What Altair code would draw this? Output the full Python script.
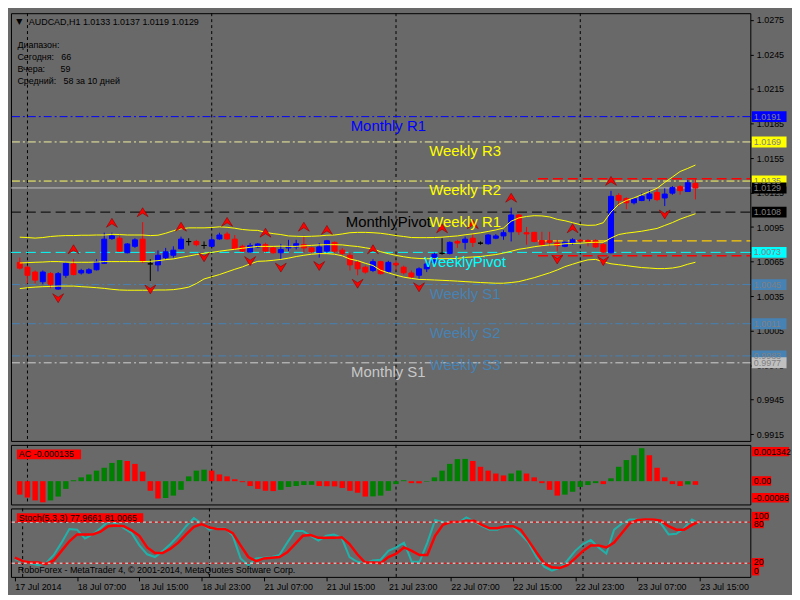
import altair as alt
import pandas as pd
import numpy as np

FONT = "Liberation Sans"
BG = "#696969"
W = 745
H_MAIN, H_AC, H_ST = 431, 60, 69

# ---------------- data ----------------
time_labels = ["17 Jul 2014", "18 Jul 07:00", "18 Jul 15:00", "18 Jul 23:00",
               "21 Jul 07:00", "21 Jul 15:00", "21 Jul 23:00", "22 Jul 07:00",
               "22 Jul 15:00", "22 Jul 23:00", "23 Jul 07:00", "23 Jul 15:00"]
day_start_bars = [1, 25, 49, 73]

opens = [1.00643, 1.00601, 1.00559, 1.00475, 1.00545, 1.00411, 1.00531, 1.00629, 1.00551, 1.00551,
         1.00579, 1.00635, 1.00850, 1.00853, 1.00727, 1.00783, 1.00845, 1.00630, 1.00621, 1.00685,
         1.00705, 1.00761, 1.00824, 1.00825, 1.00790, 1.00783, 1.00847, 1.00889, 1.00845, 1.00783,
         1.00733, 1.00777, 1.00797, 1.00769, 1.00727, 1.00769, 1.00777, 1.00797, 1.00769, 1.00727,
         1.00741, 1.00817, 1.00749, 1.00705, 1.00643, 1.00601, 1.00573, 1.00649, 1.00565, 1.00635,
         1.00601, 1.00551, 1.00531, 1.00587, 1.00643, 1.00722, 1.00721, 1.00825, 1.00817, 1.00853,
         1.00810, 1.00805, 1.00853, 1.00873, 1.00909, 1.01055, 1.00901, 1.00904, 1.00833, 1.00831,
         1.00811, 1.00783, 1.00811, 1.00835, 1.00833, 1.00831, 1.00797, 1.00727, 1.01225, 1.01197,
         1.01161, 1.01181, 1.01197, 1.01251, 1.01203, 1.01245, 1.01301, 1.01259, 1.01330]
highs = [1.00685, 1.00615, 1.00573, 1.00573, 1.00559, 1.00559, 1.00643, 1.00671, 1.00587, 1.00593,
         1.00671, 1.00901, 1.00901, 1.00873, 1.00811, 1.00853, 1.00993, 1.00671, 1.00747, 1.00769,
         1.00783, 1.00867, 1.00853, 1.00839, 1.00825, 1.00867, 1.00901, 1.00909, 1.00881, 1.00797,
         1.00811, 1.00811, 1.00815, 1.00783, 1.00803, 1.00839, 1.00839, 1.00867, 1.00777, 1.00811,
         1.00839, 1.00825, 1.00769, 1.00727, 1.00657, 1.00615, 1.00671, 1.00657, 1.00657, 1.00657,
         1.00615, 1.00573, 1.00601, 1.00657, 1.00727, 1.00853, 1.00825, 1.00839, 1.00867, 1.00889,
         1.00825, 1.00889, 1.00889, 1.00923, 1.01119, 1.01063, 1.00951, 1.00909, 1.00909, 1.00909,
         1.00839, 1.00825, 1.00853, 1.00845, 1.00845, 1.00845, 1.00811, 1.01265, 1.01245, 1.01209,
         1.01209, 1.01245, 1.01273, 1.01287, 1.01287, 1.01307, 1.01315, 1.01357, 1.01370]
lows = [1.00581, 1.00461, 1.00461, 1.00453, 1.00419, 1.00405, 1.00509, 1.00531, 1.00537, 1.00542,
        1.00573, 1.00629, 1.00839, 1.00735, 1.00721, 1.00769, 1.00637, 1.00481, 1.00565, 1.00671,
        1.00685, 1.00755, 1.00789, 1.00783, 1.00761, 1.00777, 1.00839, 1.00839, 1.00749, 1.00735,
        1.00727, 1.00769, 1.00730, 1.00719, 1.00671, 1.00741, 1.00755, 1.00727, 1.00727, 1.00685,
        1.00727, 1.00727, 1.00699, 1.00573, 1.00531, 1.00545, 1.00559, 1.00537, 1.00553, 1.00573,
        1.00537, 1.00506, 1.00500, 1.00559, 1.00629, 1.00710, 1.00713, 1.00769, 1.00755, 1.00777,
        1.00797, 1.00797, 1.00845, 1.00839, 1.00825, 1.00881, 1.00797, 1.00817, 1.00783, 1.00783,
        1.00741, 1.00775, 1.00797, 1.00817, 1.00783, 1.00769, 1.00727, 1.00721, 1.01133, 1.01105,
        1.01147, 1.01175, 1.01175, 1.01175, 1.01133, 1.01231, 1.01231, 1.01259, 1.01190]
closes = [1.00593, 1.00531, 1.00489, 1.00559, 1.00453, 1.00545, 1.00635, 1.00537, 1.00573, 1.00579,
          1.00649, 1.00845, 1.00873, 1.00741, 1.00803, 1.00839, 1.00649, 1.00630, 1.00705, 1.00735,
          1.00749, 1.00845, 1.00824, 1.00797, 1.00790, 1.00839, 1.00881, 1.00847, 1.00761, 1.00741,
          1.00789, 1.00803, 1.00741, 1.00727, 1.00755, 1.00783, 1.00805, 1.00769, 1.00733, 1.00777,
          1.00831, 1.00741, 1.00721, 1.00621, 1.00587, 1.00559, 1.00649, 1.00545, 1.00643, 1.00621,
          1.00553, 1.00517, 1.00587, 1.00629, 1.00713, 1.00722, 1.00817, 1.00811, 1.00845, 1.00817,
          1.00810, 1.00881, 1.00873, 1.00901, 1.01055, 1.00909, 1.00890, 1.00825, 1.00797, 1.00817,
          1.00789, 1.00817, 1.00839, 1.00829, 1.00825, 1.00777, 1.00735, 1.01217, 1.01183, 1.01161,
          1.01197, 1.01217, 1.01237, 1.01189, 1.01237, 1.01293, 1.01267, 1.01335, 1.01290]

band_upper = [1.00862, 1.00859, 1.00854, 1.00859, 1.00868, 1.00873, 1.00876, 1.00876, 1.00879, 1.00879,
              1.00881, 1.00881, 1.00887, 1.00885, 1.00881, 1.00881, 1.00881, 1.00876, 1.00879, 1.00896,
              1.00918, 1.00935, 1.00943, 1.00943, 1.00943, 1.00946, 1.00952, 1.00948, 1.00940, 1.00929,
              1.00923, 1.00921, 1.00904, 1.00893, 1.00885, 1.00873, 1.00870, 1.00868, 1.00870, 1.00873,
              1.00879, 1.00881, 1.00890, 1.00901, 1.00904, 1.00904, 1.00901, 1.00896, 1.00887, 1.00876,
              1.00868, 1.00859, 1.00858, 1.00858, 1.00859, 1.00862, 1.00868, 1.00873, 1.00883, 1.00891,
              1.00900, 1.00912, 1.00925, 1.00942, 1.01001, 1.01030, 1.01042, 1.01049, 1.01047, 1.01038,
              1.01017, 1.01005, 1.00988, 1.00971, 1.00965, 1.00967, 1.00988, 1.01080, 1.01147, 1.01181,
              1.01204, 1.01231, 1.01259, 1.01287, 1.01338, 1.01385, 1.01433, 1.01460, 1.01489]
band_mid = [1.00638, 1.00641, 1.00644, 1.00646, 1.00650, 1.00650, 1.00646, 1.00644, 1.00644, 1.00644,
            1.00646, 1.00650, 1.00650, 1.00650, 1.00650, 1.00650, 1.00650, 1.00652, 1.00658, 1.00667,
            1.00673, 1.00686, 1.00698, 1.00711, 1.00722, 1.00730, 1.00740, 1.00749, 1.00757, 1.00766,
            1.00774, 1.00782, 1.00782, 1.00782, 1.00784, 1.00782, 1.00782, 1.00787, 1.00791, 1.00795,
            1.00797, 1.00797, 1.00795, 1.00787, 1.00781, 1.00770, 1.00759, 1.00736, 1.00719, 1.00704,
            1.00692, 1.00682, 1.00677, 1.00675, 1.00675, 1.00675, 1.00676, 1.00677, 1.00686, 1.00690,
            1.00694, 1.00703, 1.00711, 1.00724, 1.00740, 1.00757, 1.00767, 1.00779, 1.00788, 1.00795,
            1.00797, 1.00805, 1.00808, 1.00809, 1.00815, 1.00818, 1.00818, 1.00855, 1.00885, 1.00897,
            1.00905, 1.00914, 1.00926, 1.00938, 1.00964, 1.00989, 1.01019, 1.01043, 1.01066]
band_lower = [1.00415, 1.00423, 1.00428, 1.00432, 1.00434, 1.00437, 1.00437, 1.00437, 1.00432, 1.00428,
              1.00423, 1.00417, 1.00409, 1.00403, 1.00401, 1.00401, 1.00401, 1.00401, 1.00403, 1.00403,
              1.00406, 1.00415, 1.00428, 1.00459, 1.00499, 1.00518, 1.00537, 1.00560, 1.00583, 1.00604,
              1.00630, 1.00652, 1.00655, 1.00661, 1.00669, 1.00680, 1.00694, 1.00705, 1.00714, 1.00719,
              1.00719, 1.00714, 1.00700, 1.00672, 1.00658, 1.00635, 1.00616, 1.00574, 1.00552, 1.00532,
              1.00515, 1.00504, 1.00495, 1.00493, 1.00490, 1.00487, 1.00484, 1.00480, 1.00476, 1.00472,
              1.00468, 1.00465, 1.00462, 1.00462, 1.00468, 1.00476, 1.00493, 1.00510, 1.00531, 1.00552,
              1.00577, 1.00606, 1.00627, 1.00648, 1.00665, 1.00669, 1.00648, 1.00631, 1.00623, 1.00615,
              1.00606, 1.00598, 1.00594, 1.00589, 1.00589, 1.00594, 1.00606, 1.00627, 1.00644]

fractal_up_bars = [7, 12, 16, 21, 27, 32, 37, 40, 46, 55, 59, 64, 72, 77]
fractal_down_bars = [5, 17, 24, 30, 34, 39, 44, 52, 70, 76, 84]

ac_values = [-0.000497, -0.000604, -0.00071, -0.000781, -0.00071, -0.000568, -0.000284, 0.0000355, 0.000142, 0.000249,
             0.000391, 0.000497, 0.000675, 0.000781, 0.000746, 0.000639, 0.000355, -0.000355, -0.000639, -0.000621,
             -0.000533, -0.00032, 0.000178, 0.000391, 0.000426, 0.000391, 0.000249, 0.000178, 0.000071, -0.000036,
             -0.000178, -0.000284, -0.000355, -0.000366, -0.00032, -0.000213, -0.000178, -0.000142, -0.000135, -0.000178,
             -0.000185, -0.000192, -0.000249, -0.000355, -0.000426, -0.000568, -0.000561, -0.000533, -0.000355, -0.000107,
             0.0000355, -0.000071, -0.000078, -0.000018, 0.000142, 0.000391, 0.000639, 0.000817, 0.000824, 0.000746,
             0.000533, 0.000391, 0.000284, 0.000213, 0.000284, 0.000391, 0.000284, 0.000142, -0.000071, -0.00032,
             -0.000533, -0.000497, -0.000391, -0.000213, -0.000142, -0.000071, -0.000107, 0.000107, 0.000533, 0.000781,
             0.000959, 0.00122, 0.000959, 0.000497, 0.000142, -0.000107, -0.000178, -0.00012, -0.000135]

stoch_k = [26, 22, 20, 17, 20, 32, 50, 70, 69, 56, 62, 71, 81, 78, 71, 64, 46, 33, 29, 38,
           48, 60, 74, 86, 78, 69, 71, 71, 60, 27, 17, 27, 28, 29, 32, 50, 67, 67, 60, 53,
           60, 62, 57, 29, 22, 20, 24, 25, 38, 43, 50, 22, 22, 50, 83, 80, 80, 79, 87, 81,
           74, 69, 69, 76, 73, 62, 50, 29, 15, 9, 13, 24, 38, 48, 54, 43, 34, 69, 78, 84,
           84, 83, 84, 78, 62, 63, 71, 84, 77.9661]
stoch_d = [28, 23, 21, 21, 19, 24, 38, 52, 62, 62, 62, 66, 74, 75, 74, 68, 60, 43, 35, 35,
           41, 50, 62, 73, 77, 72, 70, 70, 64, 46, 29, 23, 27, 28, 29, 36, 48, 60, 61, 57,
           57, 57, 58, 48, 33, 21, 21, 20, 29, 34, 43, 38, 32, 32, 60, 76, 80, 80, 82, 82,
           76, 71, 71, 74, 74, 69, 53, 36, 20, 14, 13, 17, 27, 38, 46, 46, 43, 50, 64, 78,
           83, 84, 84, 82, 74, 69, 69, 76, 81.0065]

price_ticks = [0.9915, 0.9945, 0.9975, 1.0005, 1.0035, 1.0065, 1.0095, 1.0125,
               1.0155, 1.0185, 1.0215, 1.0245, 1.0275]

pivot_names = ["Monthly R1", "Weekly R3", "Weekly R2", "MonthlyPivot", "Weekly R1",
               "WeeklyPivot", "Weekly S1", "Weekly S2", "Weekly S3", "Monthly S1"]
pivot_prices = [1.0191, 1.0169, 1.0135, 1.0108, 1.0108, 1.0073, 1.0045, 1.0011, 0.9983, 0.9977]
pivot_label_bars = [48, 58, 58, 48, 58, 58, 58, 58, 58, 48]
pivot_text_colors = ["#0000ff", "#ffff00", "#ffff00", "#000000", "#ffff00",
                     "#00ffff", "#4682b4", "#4682b4", "#4682b4", "#c8c8c8"]

dashdot_prices = [1.0191, 1.0169, 1.0135, 1.0045, 1.0011, 0.9983, 0.9977]
dashdot_colors = ["#0000ff", "#f0f0a0", "#ffff66", "#4682b4", "#4682b4", "#4682b4", "#d0d0d0"]
dashed_prices = [1.0108, 1.0073]
dashed_colors = ["#000000", "#00ffff"]
bid_price = 1.0129
day_line_prices = [1.0137, 1.0083, 1.0070]
day_line_colors = ["#ff0000", "#ffcc00", "#ff0000"]
day_line_start = 67.5

box_prices = [1.0191, 1.0169, 1.0135, 1.0129, 1.0108, 1.0073, 1.0045, 1.0011, 0.9983, 0.9977]
box_colors = ["#0000ff", "#ffff00", "#ffff00", "#000000", "#000000",
              "#00ffff", "#4682b4", "#4682b4", "#4682b4", "#c0c0c0"]

# ---------------- tables ----------------
N = len(closes)
bars = pd.DataFrame({"bar": np.arange(N), "open": opens, "high": highs, "low": lows,
                     "close": closes, "upper": band_upper, "mid": band_mid,
                     "lower": band_lower, "ac": ac_values, "k": stoch_k, "d": stoch_d})
o = bars["open"].values
c = bars["close"].values
bars["dir"] = np.select([np.isclose(o, c, atol=1e-7), c > o], ["flat", "up"], default="down")
bars["acdir"] = np.where(bars["ac"].diff() > 0, "ac_up", "ac_down")

days = pd.DataFrame({"bar": day_start_bars})
frac_up = bars[bars["bar"].isin(fractal_up_bars)]
frac_dn = bars[bars["bar"].isin(fractal_down_bars)]
pivot_lbl = pd.DataFrame({"name": pivot_names, "price": pivot_prices,
                          "bar": pivot_label_bars, "color": pivot_text_colors})
dd_df = pd.DataFrame({"price": dashdot_prices, "color": dashdot_colors})
dash_df = pd.DataFrame({"price": dashed_prices, "color": dashed_colors})
bid_df = pd.DataFrame({"price": [bid_price]})
dayl_df = pd.DataFrame({"price": day_line_prices, "color": day_line_colors,
                        "start": [day_line_start] * len(day_line_prices)})
boxes = pd.DataFrame({"price": box_prices, "bg": box_colors,
                      "label": [f"{p:.4f}" for p in box_prices]})
levels = pd.DataFrame({"lvl": [80, 20]})

# ---------------- scales / axes ----------------
xsc = alt.Scale(domain=[-0.5, 94.5], nice=False, zero=False)
ysc = alt.Scale(domain=[0.99091, 1.02809], nice=False, zero=False)
acsc = alt.Scale(domain=[-0.00086, 0.001342], nice=False, zero=False)
stsc = alt.Scale(domain=[0, 100], nice=False, zero=False)
dir_scale = alt.Scale(domain=["up", "down", "flat"], range=["#0000ff", "#ff0000", "#000000"])
ac_scale = alt.Scale(domain=["ac_up", "ac_down"], range=["#008000", "#ff0000"])

price_axis = alt.Axis(orient="right", values=price_ticks, format=".4f", title=None, grid=False,
                      domain=False, tickColor="black", tickSize=3, labelColor="black",
                      labelFont=FONT, labelFontSize=9, labelPadding=3)
label_expr = "[" + ",".join(f"'{t}'" for t in time_labels) + "][round(datum.value/8)]"
time_axis = alt.Axis(values=list(range(0, N, 8)), labelExpr=label_expr, title=None, grid=False,
                     domain=False, ticks=True, tickSize=4, tickColor="black", labelAlign="left",
                     labelColor="black", labelFont=FONT, labelFontSize=9, labelPadding=2,
                     labelFlush=False, labelOverlap=False, labelBound=False)


def X(field="bar", axis=None):
    return alt.X(f"{field}:Q", scale=xsc, axis=axis)


def Y(field):
    # every price layer carries the same axis so the merged axis is kept
    return alt.Y(f"{field}:Q", scale=ysc, axis=price_axis)


def txt(text, x, y, size=9, color="black", font=FONT, align="left"):
    return alt.Chart(pd.DataFrame({"t": [text]})).mark_text(
        align=align, baseline="middle", font=font, fontSize=size, color=color
    ).encode(x=alt.value(x), y=alt.value(y), text="t:N")


def box(text, x0, x1, yc, h, bg, fg="black", size=9):
    d = pd.DataFrame({"t": [text]})
    r = alt.Chart(d).mark_rect(color=bg).encode(
        x=alt.value(x0), x2=alt.value(x1), y=alt.value(yc - h / 2), y2=alt.value(yc + h / 2))
    t = alt.Chart(d).mark_text(align="left", baseline="middle", font=FONT, fontSize=size,
                               color=fg).encode(x=alt.value(x0 + 2), y=alt.value(yc), text="t:N")
    return [r, t]


# ---------------- main panel ----------------
sep = alt.Chart(days).mark_rule(color="black", strokeDash=[3, 3], strokeWidth=1).encode(x=X())

dd_lines = alt.Chart(dd_df).mark_rule(strokeDash=[8, 3, 2, 3], strokeWidth=1).encode(
    y=Y("price"), color=alt.Color("color:N", scale=None))
dash_lines = alt.Chart(dash_df).mark_rule(strokeDash=[10, 5], strokeWidth=1).encode(
    y=Y("price"), color=alt.Color("color:N", scale=None))
bid_line = alt.Chart(bid_df).mark_rule(color="#c0c0c0", strokeWidth=1).encode(y=Y("price"))
day_lines = alt.Chart(dayl_df).mark_rule(strokeDash=[10, 5], strokeWidth=1.5).encode(
    x=X("start"), x2=alt.value(W), y=Y("price"), color=alt.Color("color:N", scale=None))

wicks = alt.Chart(bars).mark_rule(strokeWidth=1).encode(
    x=X(), y=Y("low"), y2="high:Q", color=alt.Color("dir:N", scale=dir_scale, legend=None))
bodies = alt.Chart(bars).mark_bar(size=5, strokeWidth=1).encode(
    x=X(), y=Y("open"), y2="close:Q",
    color=alt.Color("dir:N", scale=dir_scale, legend=None),
    stroke=alt.Stroke("dir:N", scale=dir_scale, legend=None))
bands = alt.Chart(bars).transform_fold(["upper", "mid", "lower"], as_=["band", "val"]).mark_line(
    color="#ffff00", strokeWidth=1).encode(x=X(), y=Y("val"), detail="band:N")

UP_PATH = "M0,-5L5.5,4L0,0.5L-5.5,4Z"
DN_PATH = "M0,5L5.5,-4L0,-0.5L-5.5,-4Z"
fr_up = alt.Chart(frac_up).mark_point(shape=UP_PATH, size=4, filled=True, fill="#ff0000",
                                      stroke="#900000", strokeWidth=0.6, opacity=1,
                                      yOffset=-9.5).encode(x=X(), y=Y("high"))
fr_dn = alt.Chart(frac_dn).mark_point(shape=DN_PATH, size=4, filled=True, fill="#ff0000",
                                      stroke="#900000", strokeWidth=0.6, opacity=1,
                                      yOffset=8).encode(x=X(), y=Y("low"))

piv_text = alt.Chart(pivot_lbl).mark_text(font=FONT, fontSize=15, baseline="middle",
                                          align="center", dy=9.5).encode(
    x=X(), y=Y("price"), text="name:N", color=alt.Color("color:N", scale=None))

BOX_PATH = "M0,-5.5H35V5.5H0Z"
box_marks = alt.Chart(boxes).mark_point(shape=BOX_PATH, size=4, filled=True, opacity=1,
                                        strokeWidth=0).encode(
    x=alt.value(W + 1.5), y=Y("price"), color=alt.Color("bg:N", scale=None))
box_text = alt.Chart(boxes).mark_text(align="left", baseline="middle", font=FONT, fontSize=9,
                                      color="#808080").encode(
    x=alt.value(W + 3.5), y=Y("price"), text="label:N")

header = [
    txt("\u25bc", 8.3, 8.5, size=8, font="DejaVu Sans", align="center"),
    txt("AUDCAD,H1  1.0133 1.0137 1.0119 1.0129", 18, 8.5),
    txt("Диапазон:", 6.5, 32),
    txt("Сегодня:", 6.5, 44.5), txt("66", 50.6, 44.5),
    txt("Вчера:", 6.5, 56.5), txt("59", 50, 56.5),
    txt("Средний:", 6.5, 68), txt("58 за 10 дней", 52.9, 68),
]

main = alt.layer(sep, dd_lines, dash_lines, bid_line, day_lines, wicks, bodies, bands,
                 fr_up, fr_dn, piv_text, box_marks, box_text, *header).properties(
    width=W, height=H_MAIN)

# ---------------- AC panel ----------------
sep_ac = alt.Chart(days).mark_rule(color="black", strokeDash=[3, 3], strokeWidth=1).encode(x=X())
ac_bars = alt.Chart(bars).mark_bar(size=5.5).encode(
    x=X(), y=alt.Y("ac:Q", scale=acsc, axis=None), y2=alt.datum(0),
    color=alt.Color("acdir:N", scale=ac_scale, legend=None))
ac_labels = (box("AC -0.000135", 5.9, 70.6, 9.6, 9.7, "#ff0000")
             + box("0.001342", W + 1.5, W + 39, 6.8, 9.5, "#ff0000")
             + box("0.00", W + 1.5, W + 21, 36.3, 9.5, "#ff0000")
             + box("-0.00086", W + 1.5, W + 39, 53.2, 9.5, "#ff0000"))
ac = alt.layer(sep_ac, ac_bars, *ac_labels).properties(width=W, height=H_AC)

# ---------------- Stochastic panel ----------------
sep_st = alt.Chart(days).mark_rule(color="black", strokeDash=[3, 3], strokeWidth=1).encode(
    x=X("bar", time_axis))
lvl_w = alt.Chart(levels).mark_rule(color="#e6e6e6", strokeDash=[3, 3], strokeDashOffset=3,
                                    strokeWidth=1).encode(y=alt.Y("lvl:Q", scale=stsc, axis=None))
lvl_r = alt.Chart(levels).mark_rule(color="#ff0000", strokeDash=[3, 3], strokeWidth=1).encode(
    y=alt.Y("lvl:Q", scale=stsc, axis=None))
k_line = alt.Chart(bars).mark_line(color="#20b2aa", strokeWidth=2).encode(
    x=X("bar", time_axis), y=alt.Y("k:Q", scale=stsc, axis=None))
d_line = alt.Chart(bars).mark_line(color="#ff0000", strokeWidth=2.5).encode(
    x=X("bar", time_axis), y=alt.Y("d:Q", scale=stsc, axis=None))
st_labels = (box("Stoch(5,3,3) 77.9661 81.0065", 5.9, 133.3, 9.3, 8.8, "#ff0000")
             + box("100", W + 1.5, W + 19, 7.8, 8.7, "#ff0000")
             + box("80", W + 1.5, W + 13.5, 15.6, 8.7, "#ff0000")
             + box("20", W + 1.5, W + 13.5, 54.4, 8.7, "#ff0000")
             + box("0", W + 1.5, W + 9, 63.2, 8.7, "#ff0000"))
copyright_txt = txt("RoboForex - MetaTrader 4, \u00a9 2001-2014, MetaQuotes Software Corp.", 6.9, 62.2)
st = alt.layer(sep_st, k_line, d_line, lvl_w, lvl_r, copyright_txt, *st_labels).properties(
    width=W, height=H_ST)

chart = alt.vconcat(main, ac, st, spacing=2).resolve_scale(
    color="independent", stroke="independent"
).configure(
    background=BG, padding={"left": 1, "top": 2, "right": 0, "bottom": 0}, font=FONT
).configure_view(stroke="black", strokeWidth=1)

chart.save("out.html", embed_options={"renderer": "svg", "actions": False})
